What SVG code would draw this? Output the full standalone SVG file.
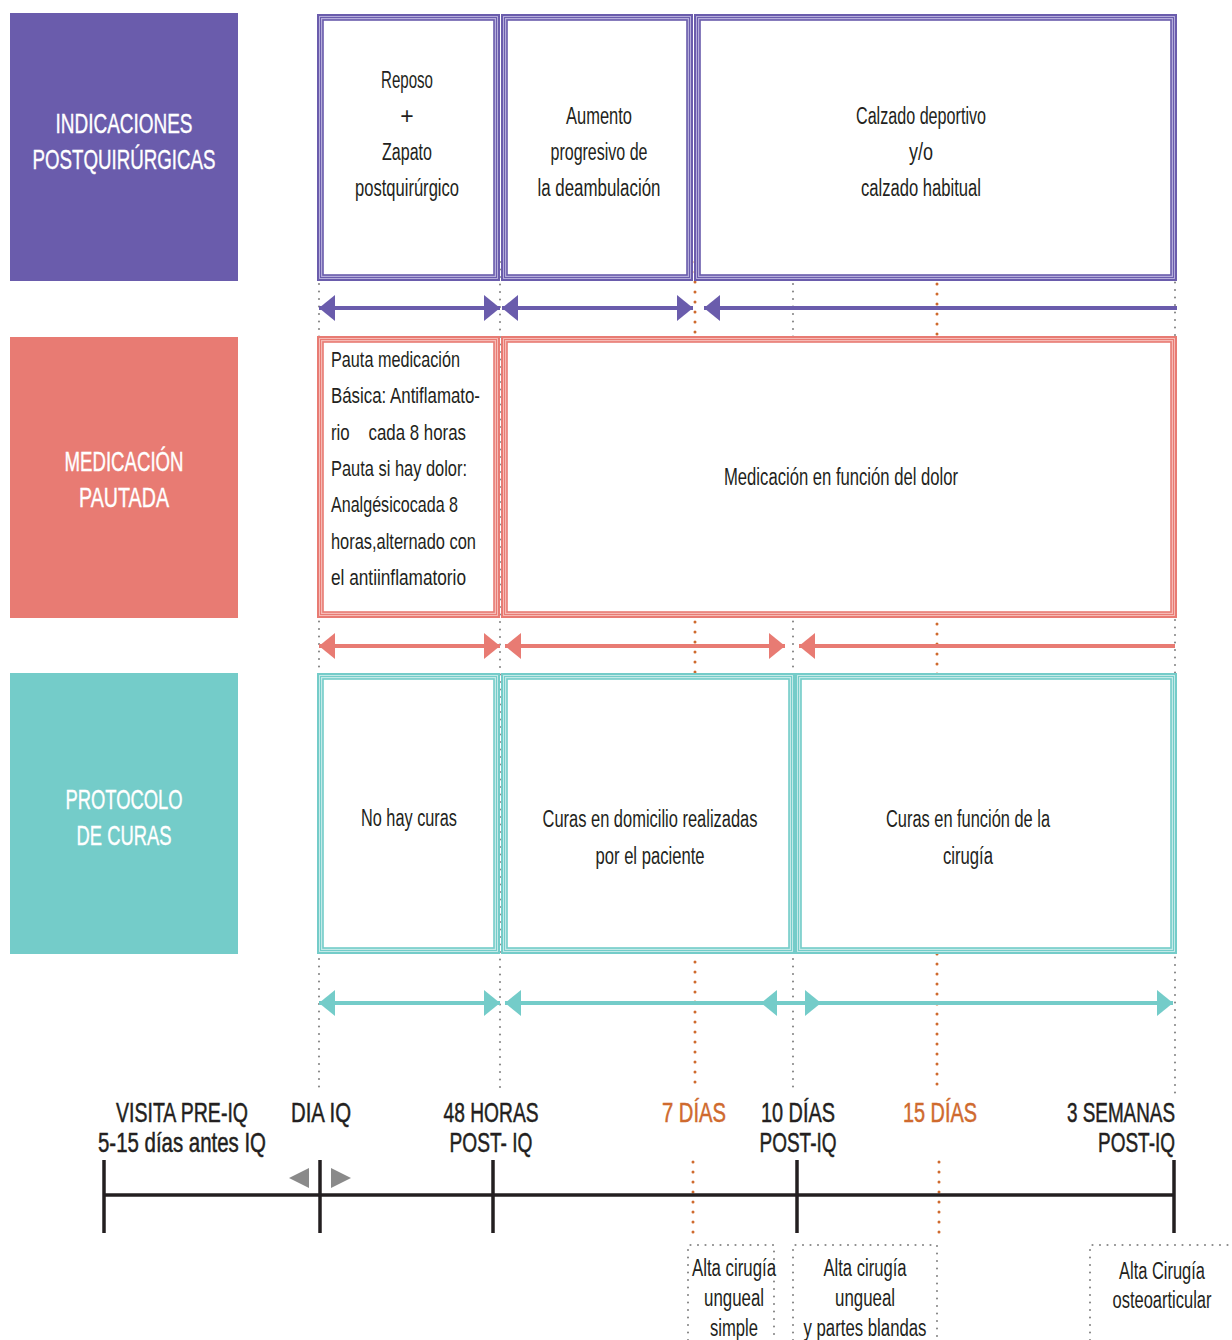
<svg xmlns="http://www.w3.org/2000/svg" width="1232" height="1340" viewBox="0 0 1232 1340">
<defs>
<style>
text{font-family:"Liberation Sans Narrow","Liberation Sans",Arial,sans-serif;fill:#231f20;}
.t{font-size:23px;text-anchor:middle;}
.tl{font-size:22px;text-anchor:start;}
.hd{font-size:28px;fill:#ffffff;stroke:#ffffff;stroke-width:0.4;text-anchor:middle;}
.tm{font-size:28px;stroke:#231f20;stroke-width:0.5;text-anchor:middle;}
.tr{font-size:28px;stroke:#231f20;stroke-width:0.5;text-anchor:end;}
.or{fill:#cf6a2e;stroke:#cf6a2e;}
.gdot{stroke:#8a8a8a;stroke-width:2.2;stroke-dasharray:0 7.5;stroke-linecap:round;fill:none;}
.odot{stroke:#cf6a2e;stroke-width:3;stroke-dasharray:0 10;stroke-linecap:round;fill:none;}
.p1{fill:#b5addb;stroke:#6a5cac;stroke-width:2;}
.p2{fill:none;stroke:#6a5cac;stroke-width:1;}
.p3{fill:#ffffff;stroke:#6a5cac;stroke-width:1.6;}
.s1{fill:#f6bbb6;stroke:#e87b73;stroke-width:2;}
.s2{fill:none;stroke:#e87b73;stroke-width:1;}
.s3{fill:#ffffff;stroke:#e87b73;stroke-width:1.6;}
.c1{fill:#c4eae8;stroke:#74ccc9;stroke-width:2;}
.c2{fill:none;stroke:#74ccc9;stroke-width:1;}
.c3{fill:#ffffff;stroke:#74ccc9;stroke-width:1.6;}
.ap{stroke:#6a5cac;stroke-width:4;fill:none;}
.as{stroke:#e87b73;stroke-width:4;fill:none;}
.ac{stroke:#74ccc9;stroke-width:4;fill:none;}
.tick{stroke:#231f20;stroke-width:3.5;fill:none;}
</style>
<marker id="hp" markerUnits="userSpaceOnUse" markerWidth="16" markerHeight="26" viewBox="0 0 16 26" refX="16" refY="13" orient="auto-start-reverse"><path d="M0,0 L16,13 L0,26 z" fill="#6a5cac"/></marker>
<marker id="hs" markerUnits="userSpaceOnUse" markerWidth="16" markerHeight="26" viewBox="0 0 16 26" refX="16" refY="13" orient="auto-start-reverse"><path d="M0,0 L16,13 L0,26 z" fill="#e87b73"/></marker>
<marker id="hc" markerUnits="userSpaceOnUse" markerWidth="16" markerHeight="26" viewBox="0 0 16 26" refX="16" refY="13" orient="auto-start-reverse"><path d="M0,0 L16,13 L0,26 z" fill="#74ccc9"/></marker>
</defs>
<rect width="1232" height="1340" fill="#ffffff"/>

<g id="guides">
<line class="gdot" x1="319" y1="284" x2="319" y2="1092"/>
<line class="gdot" x1="500" y1="262" x2="500" y2="1092"/>
<line class="gdot" x1="793" y1="284" x2="793" y2="1092"/>
<line class="gdot" x1="1175" y1="185" x2="1175" y2="1095"/>
<line class="odot" x1="695" y1="262" x2="695" y2="1092"/>
<line class="odot" x1="937" y1="284" x2="937" y2="1092"/>
<line class="odot" x1="693" y1="1162" x2="693" y2="1236"/>
<line class="odot" x1="939" y1="1162" x2="939" y2="1240"/>
</g>

<g id="label-indicaciones">
<rect x="10" y="13" width="228" height="268" fill="#6a5cac"/>
<text class="hd" x="124" y="133" textLength="137" lengthAdjust="spacingAndGlyphs">INDICACIONES</text>
<text class="hd" x="124" y="169" textLength="183" lengthAdjust="spacingAndGlyphs">POSTQUIRÚRGICAS</text>
</g>
<g id="label-medicacion">
<rect x="10" y="337" width="228" height="281" fill="#e87b73"/>
<text class="hd" x="124" y="471" textLength="119" lengthAdjust="spacingAndGlyphs">MEDICACIÓN</text>
<text class="hd" x="124" y="507" textLength="90" lengthAdjust="spacingAndGlyphs">PAUTADA</text>
</g>
<g id="label-curas">
<rect x="10" y="673" width="228" height="281" fill="#74ccc9"/>
<text class="hd" x="124" y="809" textLength="117" lengthAdjust="spacingAndGlyphs">PROTOCOLO</text>
<text class="hd" x="124" y="845" textLength="95" lengthAdjust="spacingAndGlyphs">DE CURAS</text>
</g>

<g id="ind-1">
<rect class="p1" x="318" y="15" width="181" height="265"/>
<rect class="p2" x="320.5" y="17.5" width="176" height="260"/>
<rect class="p3" x="323" y="20" width="171" height="255"/>
<text class="t" x="407" y="88" textLength="52" lengthAdjust="spacingAndGlyphs">Reposo</text>
<text class="t" x="407" y="124">+</text>
<text class="t" x="407" y="160" textLength="50" lengthAdjust="spacingAndGlyphs">Zapato</text>
<text class="t" x="407" y="196" textLength="104" lengthAdjust="spacingAndGlyphs">postquirúrgico</text>
</g>
<g id="ind-2">
<rect class="p1" x="502" y="15" width="190" height="265"/>
<rect class="p2" x="504.5" y="17.5" width="185" height="260"/>
<rect class="p3" x="507" y="20" width="180" height="255"/>
<text class="t" x="599" y="124" textLength="66" lengthAdjust="spacingAndGlyphs">Aumento</text>
<text class="t" x="599" y="160" textLength="97" lengthAdjust="spacingAndGlyphs">progresivo de</text>
<text class="t" x="599" y="196" textLength="123" lengthAdjust="spacingAndGlyphs">la deambulación</text>
</g>
<g id="ind-3">
<rect class="p1" x="695" y="15" width="481" height="265"/>
<rect class="p2" x="697.5" y="17.5" width="476" height="260"/>
<rect class="p3" x="700" y="20" width="471" height="255"/>
<text class="t" x="921" y="124" textLength="130" lengthAdjust="spacingAndGlyphs">Calzado deportivo</text>
<text class="t" x="921" y="160" textLength="24" lengthAdjust="spacingAndGlyphs">y/o</text>
<text class="t" x="921" y="196" textLength="120" lengthAdjust="spacingAndGlyphs">calzado habitual</text>
</g>

<g id="med-1">
<rect class="s1" x="318" y="337" width="181" height="280"/>
<rect class="s2" x="320.5" y="339.5" width="176" height="275"/>
<rect class="s3" x="323" y="342" width="171" height="270"/>
<text class="tl" x="331" y="367" textLength="129" lengthAdjust="spacingAndGlyphs">Pauta medicación</text>
<text class="tl" x="331" y="403" textLength="149" lengthAdjust="spacingAndGlyphs">Básica: Antiflamato-</text>
<text class="tl" x="331" y="440" textLength="135" lengthAdjust="spacingAndGlyphs" xml:space="preserve">rio    cada 8 horas</text>
<text class="tl" x="331" y="476" textLength="136" lengthAdjust="spacingAndGlyphs">Pauta si hay dolor:</text>
<text class="tl" x="331" y="512" textLength="127" lengthAdjust="spacingAndGlyphs">Analgésicocada 8</text>
<text class="tl" x="331" y="549" textLength="145" lengthAdjust="spacingAndGlyphs">horas,alternado con</text>
<text class="tl" x="331" y="585" textLength="135" lengthAdjust="spacingAndGlyphs">el antiinflamatorio</text>
</g>
<g id="med-2">
<rect class="s1" x="502" y="337" width="674" height="280"/>
<rect class="s2" x="504.5" y="339.5" width="669" height="275"/>
<rect class="s3" x="507" y="342" width="664" height="270"/>
<text class="t" x="841" y="485" textLength="234" lengthAdjust="spacingAndGlyphs">Medicación en función del dolor</text>
</g>

<g id="cur-1">
<rect class="c1" x="318" y="674" width="181" height="279"/>
<rect class="c2" x="320.5" y="676.5" width="176" height="274"/>
<rect class="c3" x="323" y="679" width="171" height="269"/>
<text class="t" x="409" y="826" textLength="96" lengthAdjust="spacingAndGlyphs">No hay curas</text>
</g>
<g id="cur-2">
<rect class="c1" x="502" y="674" width="292" height="279"/>
<rect class="c2" x="504.5" y="676.5" width="287" height="274"/>
<rect class="c3" x="507" y="679" width="282" height="269"/>
<text class="t" x="650" y="827" textLength="215" lengthAdjust="spacingAndGlyphs">Curas en domicilio realizadas</text>
<text class="t" x="650" y="864" textLength="109" lengthAdjust="spacingAndGlyphs">por el paciente</text>
</g>
<g id="cur-3">
<rect class="c1" x="796" y="674" width="380" height="279"/>
<rect class="c2" x="798.5" y="676.5" width="375" height="274"/>
<rect class="c3" x="801" y="679" width="370" height="269"/>
<text class="t" x="968" y="827" textLength="164" lengthAdjust="spacingAndGlyphs">Curas en función de la</text>
<text class="t" x="968" y="864" textLength="50" lengthAdjust="spacingAndGlyphs">cirugía</text>
</g>

<g id="connectors">
<line class="ap" x1="319" y1="308" x2="500" y2="308" marker-start="url(#hp)" marker-end="url(#hp)"/>
<line class="ap" x1="502" y1="308" x2="693" y2="308" marker-start="url(#hp)" marker-end="url(#hp)"/>
<line class="ap" x1="704" y1="308" x2="1177" y2="308" marker-start="url(#hp)"/>
<line class="as" x1="319" y1="646" x2="500" y2="646" marker-start="url(#hs)" marker-end="url(#hs)"/>
<line class="as" x1="505" y1="646" x2="785" y2="646" marker-start="url(#hs)" marker-end="url(#hs)"/>
<line class="as" x1="799" y1="646" x2="1175" y2="646" marker-start="url(#hs)"/>
<line class="ac" x1="319" y1="1003" x2="500" y2="1003" marker-start="url(#hc)" marker-end="url(#hc)"/>
<line class="ac" x1="505" y1="1003" x2="1173" y2="1003" marker-start="url(#hc)" marker-end="url(#hc)"/>
<line class="ac" x1="761" y1="1003" x2="821" y2="1003" marker-start="url(#hc)" marker-end="url(#hc)"/>
</g>

<g id="timeline">
<line class="tick" x1="103" y1="1195" x2="1175" y2="1195"/>
<line class="tick" x1="104" y1="1160" x2="104" y2="1233"/>
<line class="tick" x1="320" y1="1160" x2="320" y2="1233"/>
<line class="tick" x1="493" y1="1160" x2="493" y2="1233"/>
<line class="tick" x1="797" y1="1160" x2="797" y2="1233"/>
<line class="tick" x1="1174" y1="1160" x2="1174" y2="1233"/>
<path d="M289,1178 L309,1168 L309,1188 z" fill="#8a8a8a"/>
<path d="M351,1178 L331,1168 L331,1188 z" fill="#8a8a8a"/>
<text class="tm" x="182" y="1122" textLength="132" lengthAdjust="spacingAndGlyphs">VISITA PRE-IQ</text>
<text class="tm" x="182" y="1152" textLength="168" lengthAdjust="spacingAndGlyphs">5-15 días antes IQ</text>
<text class="tm" x="321" y="1122" textLength="60" lengthAdjust="spacingAndGlyphs">DIA IQ</text>
<text class="tm" x="491" y="1122" textLength="95" lengthAdjust="spacingAndGlyphs">48 HORAS</text>
<text class="tm" x="491" y="1152" textLength="83" lengthAdjust="spacingAndGlyphs">POST- IQ</text>
<text class="tm or" x="694" y="1122" textLength="64" lengthAdjust="spacingAndGlyphs">7 DÍAS</text>
<text class="tm" x="798" y="1122" textLength="74" lengthAdjust="spacingAndGlyphs">10 DÍAS</text>
<text class="tm" x="798" y="1152" textLength="77" lengthAdjust="spacingAndGlyphs">POST-IQ</text>
<text class="tm or" x="940" y="1122" textLength="74" lengthAdjust="spacingAndGlyphs">15 DÍAS</text>
<text class="tr" x="1175" y="1122" textLength="108" lengthAdjust="spacingAndGlyphs">3 SEMANAS</text>
<text class="tr" x="1175" y="1152" textLength="77" lengthAdjust="spacingAndGlyphs">POST-IQ</text>
</g>

<g id="alta-simple">
<path class="gdot" d="M688,1340 L688,1245 L774,1245 L774,1340"/>
<text class="t" x="734" y="1276" textLength="84" lengthAdjust="spacingAndGlyphs">Alta cirugía</text>
<text class="t" x="734" y="1306" textLength="60" lengthAdjust="spacingAndGlyphs">ungueal</text>
<text class="t" x="734" y="1336" textLength="48" lengthAdjust="spacingAndGlyphs">simple</text>
</g>
<g id="alta-blandas">
<path class="gdot" d="M793,1340 L793,1245 L937,1245 L937,1340"/>
<text class="t" x="865" y="1276" textLength="83" lengthAdjust="spacingAndGlyphs">Alta cirugía</text>
<text class="t" x="865" y="1306" textLength="60" lengthAdjust="spacingAndGlyphs">ungueal</text>
<text class="t" x="865" y="1336" textLength="123" lengthAdjust="spacingAndGlyphs">y partes blandas</text>
</g>
<g id="alta-osteo">
<path class="gdot" d="M1090,1340 L1090,1245 L1232,1245"/>
<text class="t" x="1162" y="1279" textLength="86" lengthAdjust="spacingAndGlyphs">Alta Cirugía</text>
<text class="t" x="1162" y="1308" textLength="99" lengthAdjust="spacingAndGlyphs">osteoarticular</text>
</g>
</svg>
